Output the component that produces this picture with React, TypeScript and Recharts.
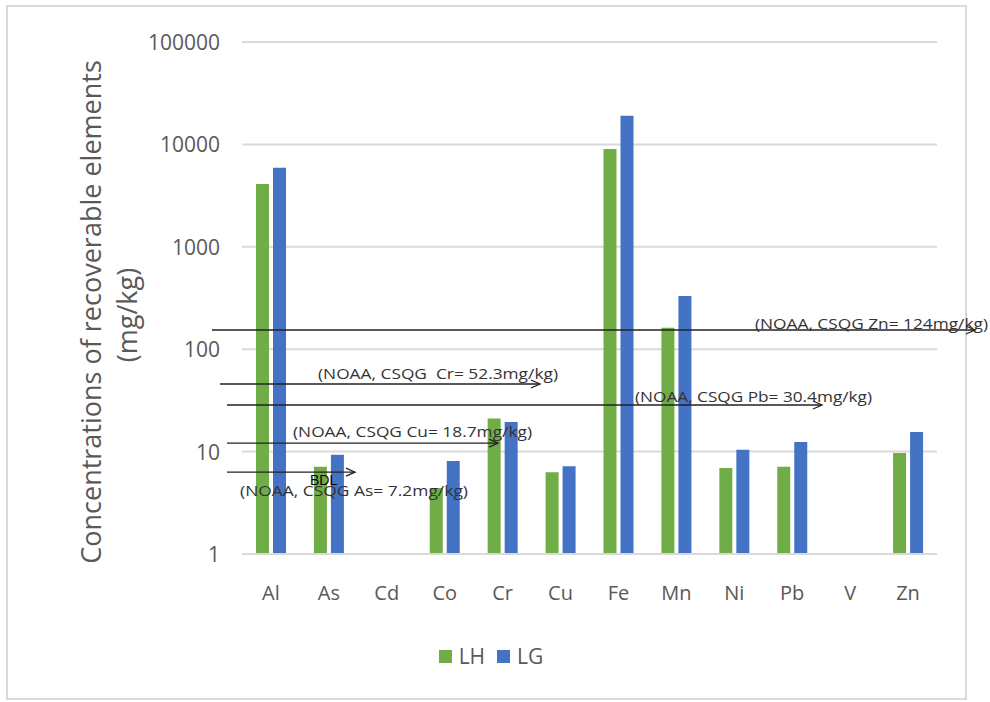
import React from "react";
import {
  BarChart,
  Bar,
  XAxis,
  YAxis,
  CartesianGrid,
  Legend,
  ReferenceLine,
} from "recharts";

const elements = ["Al", "As", "Cd", "Co", "Cr", "Cu", "Fe", "Mn", "Ni", "Pb", "V", "Zn"];
const lh = [4100, 7.1, null, 4.4, 21, 6.3, 9000, 162, 6.9, 7.1, null, 9.7];
const lg = [5900, 9.3, null, 8.1, 19.5, 7.2, 19000, 330, 10.4, 12.4, null, 15.5];
const yTicks = [1, 10, 100, 1000, 10000, 100000];

// hand-drawn guideline arrows: level where the arrow sits, and its caption
const guideLevels = [154, 45.7, 28.5, 12.1, 6.3];
const guideLabels = [
  "(NOAA, CSQG Zn= 124mg/kg)",
  "(NOAA, CSQG\u00a0 Cr= 52.3mg/kg)",
  "(NOAA, CSQG Pb= 30.4mg/kg)",
  "(NOAA, CSQG Cu= 18.7mg/kg)",
  "(NOAA, CSQG As= 7.2mg/kg)",
];

const data = elements.map((el, i) => ({ el, LH: lh[i], LG: lg[i] }));

const GREEN = "#70ad47";
const BLUE = "#4472c4";
const GRID = "#d9d9d9";
const TEXT = "#595959";
const FONT = "'Open Sans', sans-serif";

// pixel layout of each arrow (start x, tip x, caption x, caption offset, caption width)
const arrowLayout = [
  { x0: 212, x1: 975, tx: 755, dy: -7, w: 233 },
  { x0: 220, x1: 540, tx: 318, dy: -11, w: 240 },
  { x0: 227, x1: 822, tx: 635, dy: -9, w: 237 },
  { x0: 227, x1: 498, tx: 293, dy: -12, w: 239 },
  { x0: 227, x1: 355, tx: 240, dy: 18, w: 228 },
];

function Arrow({ y, idx }: { y: number; idx: number }) {
  const a = arrowLayout[idx];
  return (
    <g>
      <line x1={a.x0} y1={y} x2={a.x1} y2={y} stroke="#222" strokeWidth={1.3} />
      <polyline
        points={`${a.x1 - 9},${y - 4} ${a.x1},${y} ${a.x1 - 9},${y + 4}`}
        fill="none"
        stroke="#222"
        strokeWidth={1.3}
      />
      <text
        x={a.tx}
        y={y + a.dy}
        dominantBaseline="central"
        fontSize={15}
        fontFamily={FONT}
        fill="#333"
        textLength={a.w}
        lengthAdjust="spacingAndGlyphs"
      >
        {guideLabels[idx]}
      </text>
      {idx === 4 && (
        <text x={310} y={480} dominantBaseline="central" fontSize={14} fontFamily="'Liberation Sans', sans-serif" fill="#000">
          BDL
        </text>
      )}
    </g>
  );
}

function LegendBox() {
  const item = (color: string, label: string) => (
    <span style={{ display: "inline-flex", alignItems: "center", marginRight: 12 }}>
      <span style={{ width: 13, height: 13, background: color, display: "inline-block", marginRight: 7 }} />
      <span style={{ color: TEXT, fontSize: 21, fontFamily: FONT }}>{label}</span>
    </span>
  );
  return (
    <div style={{ height: 26, display: "flex", justifyContent: "center", alignItems: "center", paddingLeft: 4 }}>
      {item(GREEN, "LH")}
      {item(BLUE, "LG")}
    </div>
  );
}

export default function App() {
  return (
    <div style={{ position: "absolute", left: 0, top: 0, width: 990, height: 702, background: "#fff" }}>
      <div
        style={{
          position: "absolute",
          left: 6,
          top: 5,
          width: 961,
          height: 695,
          border: `2px solid ${GRID}`,
          boxSizing: "border-box",
        }}
      />
      <BarChart
        width={990}
        height={702}
        data={data}
        margin={{ top: 42, right: 53, left: 0, bottom: 82 }}
        barSize={13}
        barGap={4}
        style={{ position: "absolute", left: 0, top: 0 }}
      >
        <CartesianGrid horizontal vertical={false} stroke={GRID} strokeWidth={2} />
        <XAxis
          dataKey="el"
          height={40}
          axisLine={{ stroke: GRID, strokeWidth: 2 }}
          tickLine={false}
          tick={(p: any) => (
            <text x={p.x} y={592} textAnchor="middle" dominantBaseline="central" fontSize={20} fontFamily={FONT} fill={TEXT}>
              {p.payload.value}
            </text>
          )}
        />
        <YAxis
          type="number"
          scale="log"
          domain={[1, 100000]}
          ticks={yTicks}
          allowDataOverflow
          width={242}
          axisLine={false}
          tickLine={false}
          tick={(p: any) => (
            <text x={220} y={p.y} textAnchor="end" dominantBaseline="central" fontSize={21} fontFamily={FONT} fill={TEXT}>
              {p.payload.value}
            </text>
          )}
          label={{
            content: () => (
              <g fontFamily={FONT} fill={TEXT} fontSize={27}>
                <text x={90} y={312} transform="rotate(-90 90 312)" textAnchor="middle" dominantBaseline="central">
                  Concentrations of recoverable elements
                </text>
                <text x={126} y={315} transform="rotate(-90 126 315)" textAnchor="middle" dominantBaseline="central">
                  (mg/kg)
                </text>
              </g>
            ),
          }}
        />
        <Legend
          verticalAlign="bottom"
          content={() => <LegendBox />}
          wrapperStyle={{ top: 643, left: 0, width: 990 }}
        />
        <Bar dataKey="LH" name="LH" fill={GREEN} isAnimationActive={false} />
        <Bar dataKey="LG" name="LG" fill={BLUE} isAnimationActive={false} />
        {guideLevels.map((lv, i) => (
          <ReferenceLine
            key={i}
            y={lv}
            ifOverflow="visible"
            shape={(p: any) => <Arrow y={p.y1} idx={i} />}
          />
        ))}
      </BarChart>
    </div>
  );
}
